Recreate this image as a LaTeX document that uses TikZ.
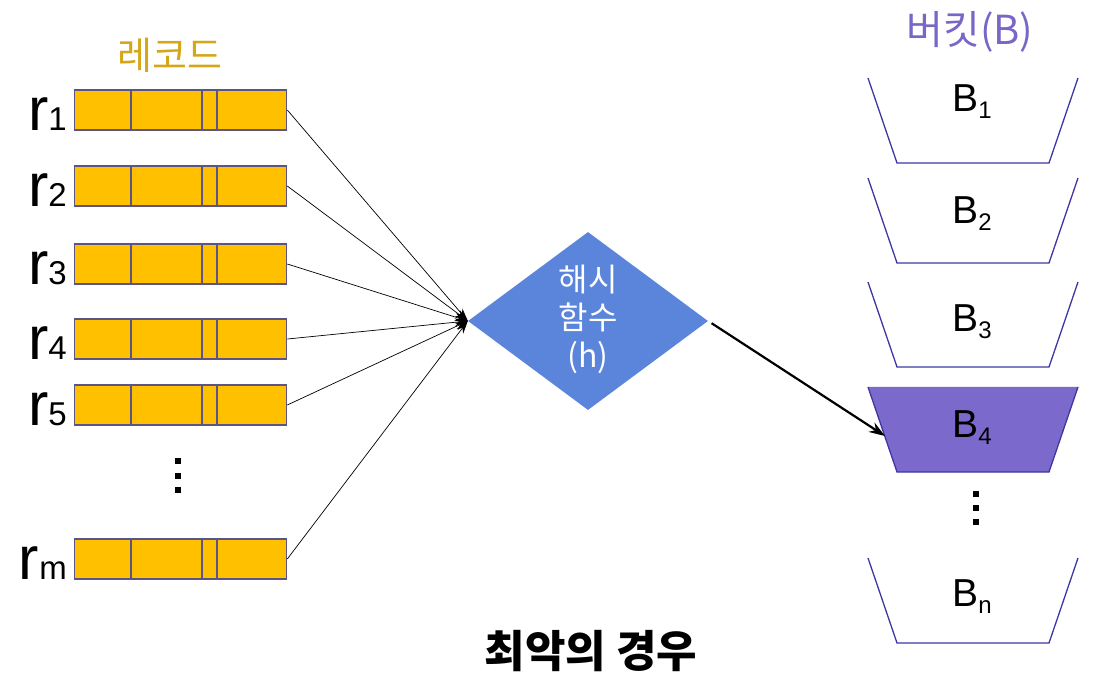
\documentclass[tikz,border=0pt]{standalone}
\usepackage{fontspec}
\setmainfont{Liberation Sans}
\newfontfamily\krfont{Noto Sans CJK KR}
\usetikzlibrary{positioning,shapes.geometric,arrows.meta}

\definecolor{recfill}{HTML}{FFC000}
\definecolor{recline}{HTML}{5E5483}
\definecolor{rectitle}{HTML}{D4A618}
\definecolor{hashfill}{HTML}{5B84DB}
\definecolor{bkline}{HTML}{3E37A3}
\definecolor{bkfill}{HTML}{7B69CC}
\definecolor{bktitle}{HTML}{7A66C6}

\newcommand{\recname}[1]{r{\fontsize{33}{33}\selectfont #1}}
\newcommand{\bkname}[1]{B\raisebox{-7pt}{\fontsize{24}{24}\selectfont #1}}

\begin{document}
\begin{tikzpicture}[x=1pt, y=-1pt, >=Stealth,
    recbar/.style={draw=recline, fill=recfill, line width=1.3pt,
                   minimum width=212pt, minimum height=40pt,
                   inner sep=0pt, anchor=west},
    reclabel/.style={inner sep=0pt, font=\fontsize{61}{61}\selectfont,
                     anchor=base east},
    bucket/.style={draw=bkline, line width=1.3pt},
    bklabel/.style={inner sep=0pt, font=\fontsize{39}{39}\selectfont},
    feed/.style={->, line width=0.7pt,
                 -{Stealth[length=13pt, width=8pt]}},
    hit/.style={line width=2.2pt, -{Stealth[length=16pt, width=11pt]}},
    dotsq/.style={fill=black}]
  \useasboundingbox (0,0) rectangle (1104,676);

  % Records (left column)
  \foreach \n/\y in {1/110, 2/186, 3/264, 4/339, 5/405, m/559} {
    \node[recbar] (rec\n) at (74,\y) {};
    \foreach \dx in {57,128,143}
      \draw[recline, line width=1.3pt] ([xshift=\dx pt]rec\n.north west)
        -- ([xshift=\dx pt]rec\n.south west);
    \node[reclabel] (lbl\n) at ([xshift=-7pt]rec\n.south west) {\recname{\n}};
  }
  \node[font=\krfont\fontsize{38}{38}\selectfont, text=rectitle]
    (rectitle) at (170,55) {레코드};

  % vertical dots between r5 and rm
  \foreach \y in {461,476,490}
    \fill[dotsq] (175,\y-3) rectangle (181,\y+3);

  % Hash function
  \node[diamond, fill=hashfill, minimum width=240pt, minimum height=178pt,
        inner sep=0pt] (hash) at (588,321) {};
  \node[text=white, align=center, font=\krfont\fontsize{32}{38}\selectfont]
    (hashtxt) at (588,319) {해시\\함수\\(h)};

  % Buckets (right column)
  \fill[bkfill] (868,387) -- (897,472) -- (1049,472) -- (1078,387) -- cycle;
  \foreach \n/\t/\ly in {1/78/102, 2/178/214, 3/282/322, 4/387/428, n/558/597} {
    \draw[bucket] (868,\t) -- ({897},{\t+85}) -- ({1049},{\t+85}) -- (1078,\t);
    \node[bklabel] (bk\n) at (972,\ly) {\bkname{\n}};
  }
  \node[font=\krfont\fontsize{40}{40}\selectfont, text=bktitle]
    (bktitle) at (970,32) {버킷(B)};
  \coordinate (bk4in) at (885,436);

  % vertical dots between B4 and Bn
  \foreach \y in {494,508,522}
    \fill[dotsq] (973,\y-3) rectangle (979,\y+3);

  % Connectors
  \foreach \n in {1,2,3,4,5,m}
    \draw[feed] (rec\n.east) -- (hash.west);
  \draw[hit, shorten <=4pt] (hash.east) -- (bk4in);

  % Caption
  \node[font=\krfont\bfseries\fontsize{44}{44}\selectfont]
    (caption) at (591,651) {최악의 경우};
\end{tikzpicture}
\end{document}
